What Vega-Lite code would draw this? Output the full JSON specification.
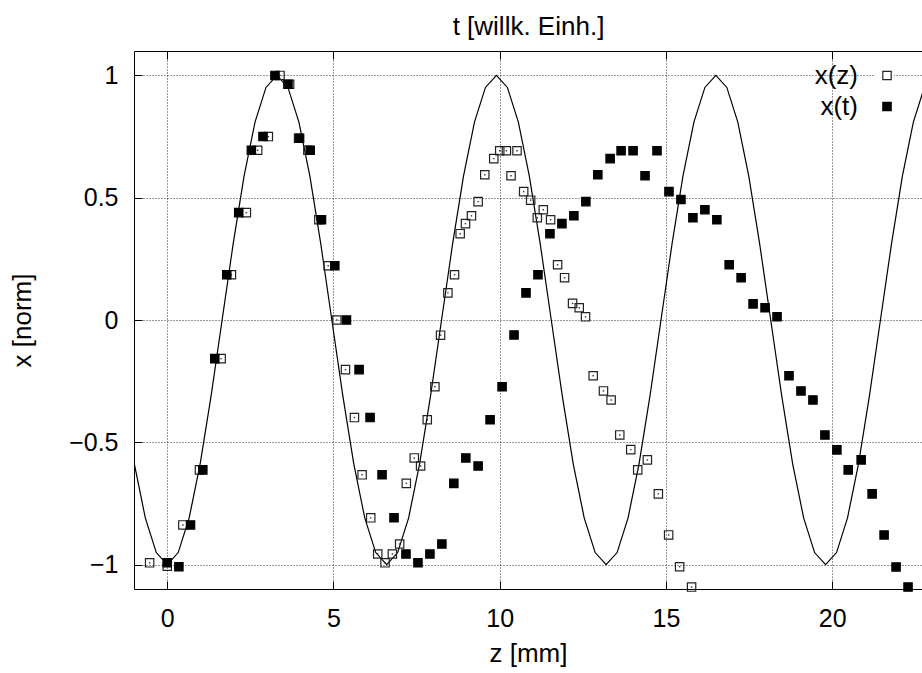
{
  "$schema": "https://vega.github.io/schema/vega-lite/v6.json",
  "width": 788,
  "height": 538,
  "autosize": "none",
  "padding": {"left": 134, "top": 51, "right": 0, "bottom": 84},
  "background": "white",
  "config": {
    "font": "Liberation Sans",
    "view": {"stroke": "black", "strokeWidth": 1},
    "axis": {
      "domain": false,
      "labelFontSize": 25,
      "titleFontSize": 26,
      "titleFontWeight": "normal",
      "labelColor": "black",
      "titleColor": "black",
      "tickColor": "black",
      "tickSize": -8,
      "gridColor": "black",
      "gridDash": [1, 2],
      "gridOpacity": 0.8
    }
  },
  "datasets": {
    "curve": [
      {"z": -0.99, "y": -0.588}, {"z": -0.66, "y": -0.809}, {"z": -0.33, "y": -0.951},
      {"z": 0, "y": -1}, {"z": 0.33, "y": -0.951}, {"z": 0.66, "y": -0.809}, {"z": 0.99, "y": -0.588},
      {"z": 1.32, "y": -0.309}, {"z": 1.65, "y": 0}, {"z": 1.98, "y": 0.309}, {"z": 2.31, "y": 0.588},
      {"z": 2.64, "y": 0.809}, {"z": 2.97, "y": 0.951}, {"z": 3.3, "y": 1}, {"z": 3.63, "y": 0.951},
      {"z": 3.96, "y": 0.809}, {"z": 4.29, "y": 0.588}, {"z": 4.62, "y": 0.309}, {"z": 4.95, "y": 0},
      {"z": 5.28, "y": -0.309}, {"z": 5.61, "y": -0.588}, {"z": 5.94, "y": -0.809}, {"z": 6.27, "y": -0.951},
      {"z": 6.6, "y": -1}, {"z": 6.93, "y": -0.951}, {"z": 7.26, "y": -0.809}, {"z": 7.59, "y": -0.588},
      {"z": 7.92, "y": -0.309}, {"z": 8.25, "y": 0}, {"z": 8.58, "y": 0.309}, {"z": 8.91, "y": 0.588},
      {"z": 9.24, "y": 0.809}, {"z": 9.57, "y": 0.951}, {"z": 9.9, "y": 1}, {"z": 10.23, "y": 0.951},
      {"z": 10.56, "y": 0.809}, {"z": 10.89, "y": 0.588}, {"z": 11.22, "y": 0.309}, {"z": 11.55, "y": 0},
      {"z": 11.88, "y": -0.309}, {"z": 12.21, "y": -0.588}, {"z": 12.54, "y": -0.809}, {"z": 12.87, "y": -0.951},
      {"z": 13.2, "y": -1}, {"z": 13.53, "y": -0.951}, {"z": 13.86, "y": -0.809}, {"z": 14.19, "y": -0.588},
      {"z": 14.52, "y": -0.309}, {"z": 14.85, "y": 0}, {"z": 15.18, "y": 0.309}, {"z": 15.51, "y": 0.588},
      {"z": 15.84, "y": 0.809}, {"z": 16.17, "y": 0.951}, {"z": 16.5, "y": 1}, {"z": 16.83, "y": 0.951},
      {"z": 17.16, "y": 0.809}, {"z": 17.49, "y": 0.588}, {"z": 17.82, "y": 0.309}, {"z": 18.15, "y": 0},
      {"z": 18.48, "y": -0.309}, {"z": 18.81, "y": -0.588}, {"z": 19.14, "y": -0.809}, {"z": 19.47, "y": -0.951},
      {"z": 19.8, "y": -1}, {"z": 20.13, "y": -0.951}, {"z": 20.46, "y": -0.809}, {"z": 20.79, "y": -0.588},
      {"z": 21.12, "y": -0.309}, {"z": 21.45, "y": 0}, {"z": 21.78, "y": 0.309}, {"z": 22.11, "y": 0.588},
      {"z": 22.44, "y": 0.809}, {"z": 22.77, "y": 0.951}
    ],
    "pts": [
      {"z": -0.53, "x": -0.993, "s": "x(z)"}, {"z": 0.0, "x": -1.007, "s": "x(z)"}, {"z": 0.47, "x": -0.838, "s": "x(z)"},
      {"z": 0.97, "x": -0.613, "s": "x(z)"}, {"z": 1.62, "x": -0.158, "s": "x(z)"}, {"z": 1.93, "x": 0.185, "s": "x(z)"},
      {"z": 2.38, "x": 0.439, "s": "x(z)"}, {"z": 2.72, "x": 0.694, "s": "x(z)"}, {"z": 3.04, "x": 0.75, "s": "x(z)"},
      {"z": 3.39, "x": 1.0, "s": "x(z)"}, {"z": 3.68, "x": 0.964, "s": "x(z)"}, {"z": 3.95, "x": 0.743, "s": "x(z)"},
      {"z": 4.23, "x": 0.694, "s": "x(z)"}, {"z": 4.56, "x": 0.41, "s": "x(z)"}, {"z": 4.84, "x": 0.222, "s": "x(z)"},
      {"z": 5.1, "x": 0.0, "s": "x(z)"}, {"z": 5.36, "x": -0.203, "s": "x(z)"}, {"z": 5.63, "x": -0.399, "s": "x(z)"},
      {"z": 5.86, "x": -0.633, "s": "x(z)"}, {"z": 6.12, "x": -0.809, "s": "x(z)"}, {"z": 6.33, "x": -0.957, "s": "x(z)"},
      {"z": 6.55, "x": -0.993, "s": "x(z)"}, {"z": 6.77, "x": -0.957, "s": "x(z)"}, {"z": 6.99, "x": -0.916, "s": "x(z)"},
      {"z": 7.19, "x": -0.668, "s": "x(z)"}, {"z": 7.43, "x": -0.564, "s": "x(z)"}, {"z": 7.62, "x": -0.597, "s": "x(z)"},
      {"z": 7.82, "x": -0.408, "s": "x(z)"}, {"z": 8.05, "x": -0.273, "s": "x(z)"}, {"z": 8.22, "x": -0.062, "s": "x(z)"},
      {"z": 8.44, "x": 0.111, "s": "x(z)"}, {"z": 8.64, "x": 0.185, "s": "x(z)"}, {"z": 8.81, "x": 0.353, "s": "x(z)"},
      {"z": 8.97, "x": 0.394, "s": "x(z)"}, {"z": 9.15, "x": 0.426, "s": "x(z)"}, {"z": 9.35, "x": 0.484, "s": "x(z)"},
      {"z": 9.55, "x": 0.594, "s": "x(z)"}, {"z": 9.82, "x": 0.66, "s": "x(z)"}, {"z": 10.0, "x": 0.692, "s": "x(z)"},
      {"z": 10.2, "x": 0.692, "s": "x(z)"}, {"z": 10.34, "x": 0.59, "s": "x(z)"}, {"z": 10.52, "x": 0.692, "s": "x(z)"},
      {"z": 10.72, "x": 0.525, "s": "x(z)"}, {"z": 10.93, "x": 0.49, "s": "x(z)"}, {"z": 11.13, "x": 0.418, "s": "x(z)"},
      {"z": 11.31, "x": 0.451, "s": "x(z)"}, {"z": 11.53, "x": 0.41, "s": "x(z)"}, {"z": 11.74, "x": 0.226, "s": "x(z)"},
      {"z": 11.95, "x": 0.173, "s": "x(z)"}, {"z": 12.19, "x": 0.068, "s": "x(z)"}, {"z": 12.39, "x": 0.05, "s": "x(z)"},
      {"z": 12.58, "x": 0.013, "s": "x(z)"}, {"z": 12.81, "x": -0.228, "s": "x(z)"}, {"z": 13.12, "x": -0.29, "s": "x(z)"},
      {"z": 13.35, "x": -0.327, "s": "x(z)"}, {"z": 13.61, "x": -0.47, "s": "x(z)"}, {"z": 13.94, "x": -0.53, "s": "x(z)"},
      {"z": 14.15, "x": -0.613, "s": "x(z)"}, {"z": 14.44, "x": -0.572, "s": "x(z)"}, {"z": 14.77, "x": -0.711, "s": "x(z)"},
      {"z": 15.08, "x": -0.879, "s": "x(z)"}, {"z": 15.41, "x": -1.009, "s": "x(z)"}, {"z": 15.77, "x": -1.092, "s": "x(z)"},
      {"z": 0.0, "x": -0.993, "s": "x(t)"}, {"z": 0.35, "x": -1.009, "s": "x(t)"}, {"z": 0.7, "x": -0.838, "s": "x(t)"},
      {"z": 1.07, "x": -0.613, "s": "x(t)"}, {"z": 1.43, "x": -0.158, "s": "x(t)"}, {"z": 1.79, "x": 0.185, "s": "x(t)"},
      {"z": 2.15, "x": 0.439, "s": "x(t)"}, {"z": 2.53, "x": 0.694, "s": "x(t)"}, {"z": 2.88, "x": 0.75, "s": "x(t)"},
      {"z": 3.24, "x": 1.0, "s": "x(t)"}, {"z": 3.63, "x": 0.964, "s": "x(t)"}, {"z": 3.98, "x": 0.743, "s": "x(t)"},
      {"z": 4.3, "x": 0.694, "s": "x(t)"}, {"z": 4.64, "x": 0.41, "s": "x(t)"}, {"z": 5.04, "x": 0.222, "s": "x(t)"},
      {"z": 5.39, "x": 0.0, "s": "x(t)"}, {"z": 5.77, "x": -0.203, "s": "x(t)"}, {"z": 6.1, "x": -0.399, "s": "x(t)"},
      {"z": 6.46, "x": -0.633, "s": "x(t)"}, {"z": 6.82, "x": -0.809, "s": "x(t)"}, {"z": 7.18, "x": -0.957, "s": "x(t)"},
      {"z": 7.54, "x": -0.993, "s": "x(t)"}, {"z": 7.9, "x": -0.957, "s": "x(t)"}, {"z": 8.26, "x": -0.916, "s": "x(t)"},
      {"z": 8.62, "x": -0.668, "s": "x(t)"}, {"z": 8.98, "x": -0.564, "s": "x(t)"}, {"z": 9.35, "x": -0.597, "s": "x(t)"},
      {"z": 9.71, "x": -0.408, "s": "x(t)"}, {"z": 10.07, "x": -0.273, "s": "x(t)"}, {"z": 10.43, "x": -0.061, "s": "x(t)"},
      {"z": 10.79, "x": 0.111, "s": "x(t)"}, {"z": 11.15, "x": 0.185, "s": "x(t)"}, {"z": 11.51, "x": 0.353, "s": "x(t)"},
      {"z": 11.87, "x": 0.394, "s": "x(t)"}, {"z": 12.23, "x": 0.426, "s": "x(t)"}, {"z": 12.59, "x": 0.484, "s": "x(t)"},
      {"z": 12.95, "x": 0.594, "s": "x(t)"}, {"z": 13.32, "x": 0.66, "s": "x(t)"}, {"z": 13.65, "x": 0.692, "s": "x(t)"},
      {"z": 14.01, "x": 0.692, "s": "x(t)"}, {"z": 14.37, "x": 0.59, "s": "x(t)"}, {"z": 14.73, "x": 0.692, "s": "x(t)"},
      {"z": 15.09, "x": 0.525, "s": "x(t)"}, {"z": 15.45, "x": 0.493, "s": "x(t)"}, {"z": 15.81, "x": 0.418, "s": "x(t)"},
      {"z": 16.17, "x": 0.451, "s": "x(t)"}, {"z": 16.53, "x": 0.41, "s": "x(t)"}, {"z": 16.9, "x": 0.226, "s": "x(t)"},
      {"z": 17.26, "x": 0.173, "s": "x(t)"}, {"z": 17.62, "x": 0.066, "s": "x(t)"}, {"z": 17.98, "x": 0.05, "s": "x(t)"},
      {"z": 18.34, "x": 0.013, "s": "x(t)"}, {"z": 18.7, "x": -0.228, "s": "x(t)"}, {"z": 19.06, "x": -0.29, "s": "x(t)"},
      {"z": 19.42, "x": -0.327, "s": "x(t)"}, {"z": 19.78, "x": -0.47, "s": "x(t)"}, {"z": 20.14, "x": -0.531, "s": "x(t)"},
      {"z": 20.48, "x": -0.613, "s": "x(t)"}, {"z": 20.87, "x": -0.572, "s": "x(t)"}, {"z": 21.2, "x": -0.711, "s": "x(t)"},
      {"z": 21.56, "x": -0.879, "s": "x(t)"}, {"z": 21.92, "x": -1.01, "s": "x(t)"}, {"z": 22.28, "x": -1.092, "s": "x(t)"}
    ]
  },
  "layer": [
    {
      "data": {"name": "curve"},
      "mark": {"type": "line", "color": "black", "strokeWidth": 1.2, "clip": true},
      "encoding": {
        "x": {
          "field": "z", "type": "quantitative",
          "scale": {"domain": [-1, 22.7], "nice": false, "zero": false},
          "axis": {"orient": "bottom", "values": [0, 5, 10, 15, 20], "grid": true, "labelPadding": 25, "title": "z [mm]", "titlePadding": 9}
        },
        "y": {
          "field": "y", "type": "quantitative",
          "scale": {"domain": [-1.1, 1.1], "nice": false, "zero": false},
          "axis": {"orient": "left", "values": [-1, -0.5, 0, 0.5, 1], "format": "~g", "grid": true, "labelPadding": 24, "title": "x [norm]", "titlePadding": 33}
        }
      }
    },
    {
      "data": {"name": "curve"},
      "mark": {"type": "line", "opacity": 0},
      "encoding": {
        "x": {
          "field": "z", "type": "quantitative",
          "axis": {"orient": "top", "values": [0, 5, 10, 15, 20], "grid": false, "labels": false, "title": "t [willk. Einh.]", "titlePadding": 11}
        },
        "y": {"field": "y", "type": "quantitative", "axis": null}
      }
    },
    {
      "data": {"name": "pts"},
      "transform": [{"filter": "datum.s === 'x(z)'"}],
      "mark": {"type": "square", "size": 2, "color": "#333", "opacity": 1},
      "encoding": {
        "x": {"field": "z", "type": "quantitative", "axis": null},
        "y": {"field": "x", "type": "quantitative", "axis": null}
      }
    },
    {
      "data": {"name": "pts"},
      "mark": {"type": "point", "shape": "square", "size": 70, "strokeWidth": 1.2, "opacity": 1},
      "encoding": {
        "x": {"field": "z", "type": "quantitative", "axis": null},
        "y": {"field": "x", "type": "quantitative", "axis": null},
        "fill": {
          "field": "s", "type": "nominal",
          "scale": {"domain": ["x(z)", "x(t)"], "range": ["transparent", "black"]},
          "legend": {"orient": "none", "legendX": 740, "legendY": 11.5, "title": null, "labelFontSize": 26, "labelColor": "black", "labelAlign": "right", "labelBaseline": "middle", "labelOffset": -42, "symbolType": "square", "symbolSize": 70, "symbolStrokeWidth": 1.2, "rowPadding": 5, "fillColor": "white", "padding": 0}
        },
        "stroke": {
          "field": "s", "type": "nominal",
          "scale": {"domain": ["x(z)", "x(t)"], "range": ["#222", "black"]},
          "legend": {"orient": "none", "legendX": 740, "legendY": 11.5, "title": null, "labelFontSize": 26, "labelColor": "black", "labelAlign": "right", "labelBaseline": "middle", "labelOffset": -42, "symbolType": "square", "symbolSize": 70, "symbolStrokeWidth": 1.2, "rowPadding": 5, "fillColor": "white", "padding": 0}
        }
      }
    }
  ],
  "resolve": {"axis": {"x": "independent", "y": "independent"}}
}
